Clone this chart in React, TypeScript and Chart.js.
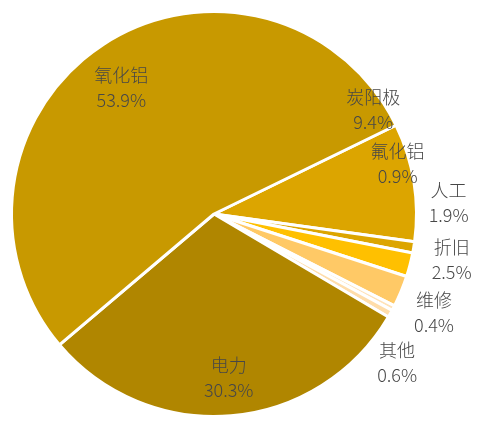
import React, { useEffect, useRef } from "react";
import { Chart, registerables } from "chart.js";

Chart.register(...registerables);

const categories = ["炭阳极", "氟化铝", "人工", "折旧", "维修", "其他", "电力", "氧化铝"];
const shares = [9.4, 0.9, 1.9, 2.5, 0.4, 0.6, 30.3, 53.9];
const colors = ["#DCA500", "#DCA500", "#FFC000", "#FFC966", "#FFE2B8", "#FFDDAA", "#B08600", "#C89900"];

// label placement: [angle shift in degrees from slice middle, radius factor]
const labelPlacement: [number, number][] = [
  [-24.2, 0.94],
  [-24.8, 0.94],
  [-17.4, 1.16],
  [-11.6, 1.195],
  [-3.6, 1.19],
  [9.6, 1.165],
  [-0.3, 0.81],
  [-3.1, 0.775],
];

const labelPlugin = {
  id: "pieLabels",
  afterDatasetsDraw(chart: any) {
    const meta = chart.getDatasetMeta(0);
    const ctx = chart.ctx;
    ctx.save();
    ctx.fillStyle = "#474747";
    ctx.font = '300 18px "Noto Sans CJK SC", "Noto Sans", sans-serif';
    ctx.textAlign = "center";
    ctx.textBaseline = "middle";
    meta.data.forEach((arc: any, i: number) => {
      const { x, y, startAngle, endAngle, outerRadius } = arc.getProps(
        ["x", "y", "startAngle", "endAngle", "outerRadius"],
        true
      );
      const [shift, factor] = labelPlacement[i];
      const mid = (startAngle + endAngle) / 2 + (shift * Math.PI) / 180;
      const r = outerRadius * factor;
      const cx = x + Math.cos(mid) * r;
      const cy = y + Math.sin(mid) * r;
      ctx.fillText(categories[i], cx, cy - 12.5);
      ctx.fillText(shares[i].toFixed(1) + "%", cx, cy + 12.5);
    });
    ctx.restore();
  },
};

export default function App() {
  const ref = useRef<HTMLCanvasElement>(null);
  useEffect(() => {
    if (!ref.current) return;
    const chart = new Chart(ref.current, {
      type: "pie",
      data: {
        labels: categories,
        datasets: [
          {
            data: shares,
            backgroundColor: colors,
            borderColor: "#FFFFFF",
            borderWidth: 3,
          },
        ],
      },
      options: {
        responsive: false,
        animation: false,
        rotation: 64,
        radius: 202.5,
        layout: { padding: { left: 0, top: 5, right: 56, bottom: 0 } },
        plugins: {
          legend: { display: false },
          tooltip: { enabled: false },
        },
        events: [],
      },
      plugins: [labelPlugin],
    });
    return () => chart.destroy();
  }, []);
  return (
    <div style={{ position: "fixed", left: 0, top: 0, width: 484, height: 423, background: "#fff" }}>
      <canvas ref={ref} width={484} height={423} style={{ display: "block" }} />
    </div>
  );
}
